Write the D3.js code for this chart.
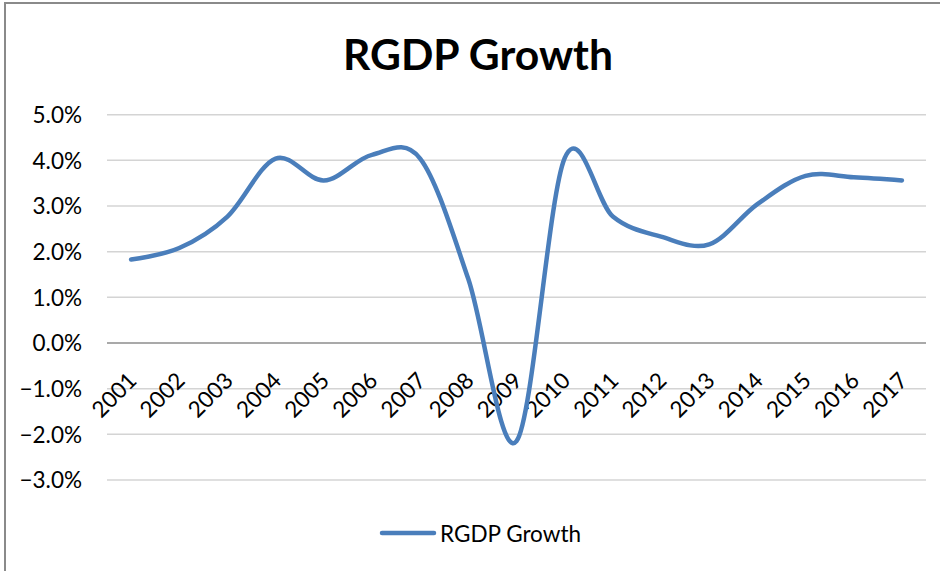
<!DOCTYPE html>
<html><head><meta charset="utf-8">
<script src="https://cdn.jsdelivr.net/npm/d3@7"></script>
<style>html,body{margin:0;padding:0;background:#fff;}svg{display:block;}</style>
</head><body>
<svg id="c" width="940" height="571"></svg>
<script>
const years = ["2001","2002","2003","2004","2005","2006","2007","2008","2009","2010","2011","2012","2013","2014","2015","2016","2017"];
const growth = [1.83, 2.08, 2.77, 4.04, 3.56, 4.12, 4.04, 1.40, -2.15, 4.05, 2.77, 2.33, 2.16, 3.04, 3.66, 3.63, 3.56];
const yTicks = [5, 4, 3, 2, 1, 0, -1, -2, -3];
const seriesName = "RGDP Growth";
const titleText = "RGDP Growth";

const svg = d3.select("#c");
const FONT = "Lato, 'Open Sans', sans-serif";
const FS = 22.5;

// chart border
svg.append("rect").attr("x", 5).attr("y", 3).attr("width", 960).attr("height", 600)
  .attr("fill", "#fff").attr("stroke", "#8a8a8a").attr("stroke-width", 2);

const x = d3.scaleBand().domain(years).range([107, 926]);
const y = d3.scaleLinear().domain([-3, 5]).range([480, 114.7]);

// gridlines
const grid = svg.append("g");
yTicks.forEach(t => {
  grid.append("line").attr("x1", 107).attr("x2", 926)
    .attr("y1", y(t)).attr("y2", y(t))
    .attr("stroke", t === 0 ? "#8c8c8c" : "#d4d4d4").attr("stroke-width", 1.5);
});

// y axis
const yAxis = d3.axisLeft(y).tickValues(yTicks).tickSize(0).tickPadding(0)
  .tickFormat(d => d3.format(".1f")(d) + "%");
const ya = svg.append("g").attr("transform", "translate(82,0)").call(yAxis);
ya.select(".domain").remove();
ya.selectAll("text").attr("font-family", FONT).attr("font-size", FS).attr("fill", "#000")
  .attr("dy", "0.35em");

// x axis labels
const xAxis = d3.axisBottom(x).tickSize(0).tickPadding(0);
const xa = svg.append("g").call(xAxis);
xa.select(".domain").remove();
xa.selectAll(".tick").attr("transform", d => `translate(${x(d) + x.bandwidth()/2 + 1},376)`);
xa.selectAll("text").attr("font-family", FONT).attr("font-size", FS).attr("fill", "#000")
  .attr("text-anchor", "end").attr("dominant-baseline", "central").attr("y", 0).attr("dy", null)
  .attr("transform", "rotate(-45)");

// line
const line = d3.line()
  .x((d, i) => x(years[i]) + x.bandwidth()/2)
  .y(d => y(d))
  .curve(d3.curveCardinal.tension(0));
svg.append("path").datum(growth).attr("d", line)
  .attr("fill", "none").attr("stroke", "#4a7ebb").attr("stroke-width", 4.5)
  .attr("stroke-linecap", "round").attr("stroke-linejoin", "round");

// title
svg.append("text").attr("x", 478).attr("y", 70).attr("text-anchor", "middle")
  .attr("font-family", FONT).attr("font-weight", "bold").attr("font-size", 42)
  .attr("fill", "#000").attr("textLength", 270).attr("lengthAdjust", "spacingAndGlyphs")
  .text(titleText);

// legend
svg.append("line").attr("x1", 382).attr("x2", 434).attr("y1", 533).attr("y2", 533)
  .attr("stroke", "#4a7ebb").attr("stroke-width", 4.5).attr("stroke-linecap", "round");
svg.append("text").attr("x", 440).attr("y", 533).attr("dominant-baseline", "central")
  .attr("font-family", FONT).attr("font-size", FS).attr("fill", "#000")
  .text(seriesName);
</script>
</body></html>
